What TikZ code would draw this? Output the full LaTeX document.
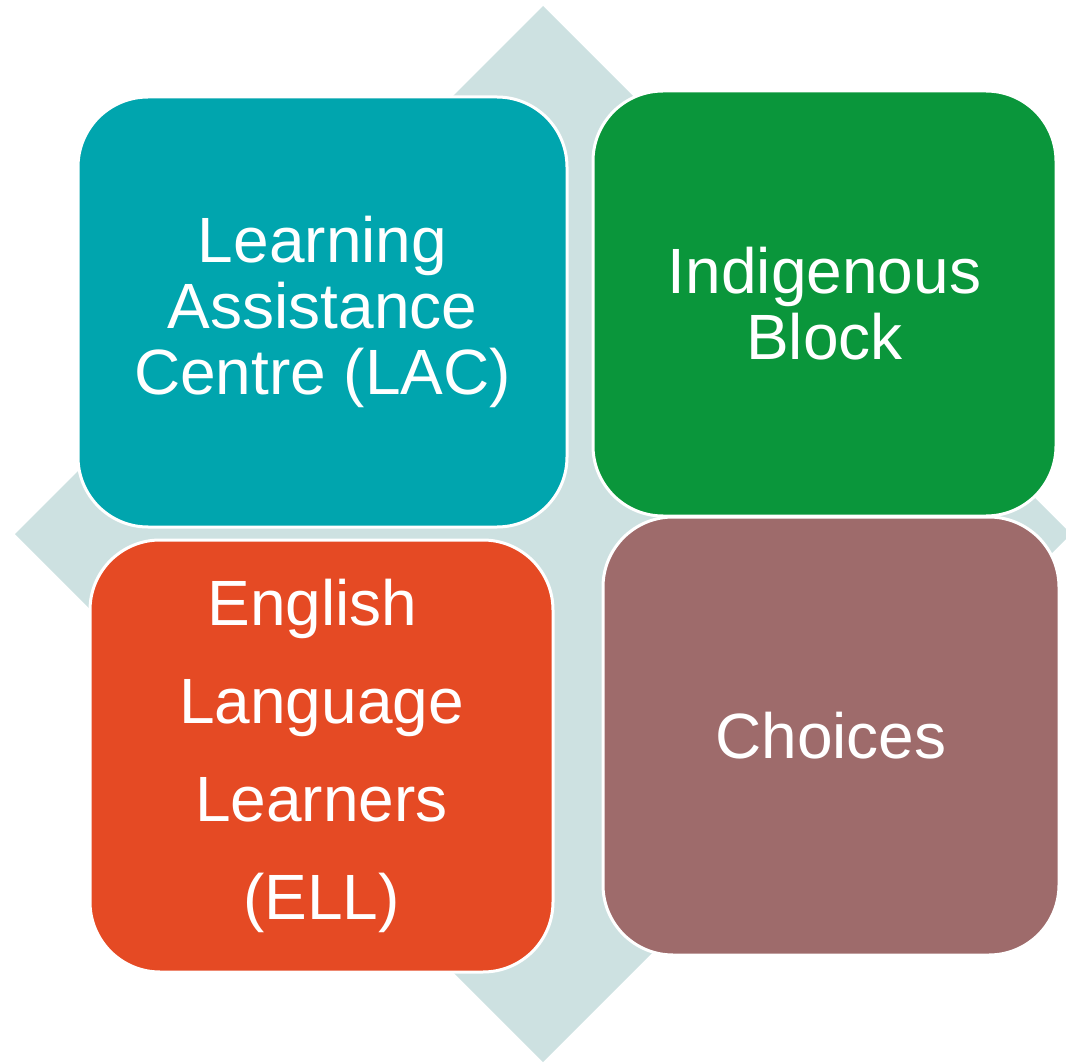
\documentclass[tikz,border=0pt]{standalone}
\usepackage{fontspec}
\setmainfont{Liberation Sans}
\definecolor{diam}{HTML}{CDE1E1}
\definecolor{teal1}{HTML}{00A5AE}
\definecolor{green1}{HTML}{0A963B}
\definecolor{orange1}{HTML}{E54A24}
\definecolor{mauve1}{HTML}{9E6B6B}
\begin{document}
\begin{tikzpicture}[x=1pt,y=-1pt,
  box/.style={draw=white, line width=3pt, rounded corners=70pt, inner sep=0pt,
    text=white, align=center, font=\fontsize{64}{66}\selectfont}]
\useasboundingbox (0,0) rectangle (1066,1064);
\begin{scope}
\clip (0,0) rectangle (1066,1064);
\fill[diam] (543,6) -- (1071,534) -- (543,1062) -- (15,534) -- cycle;
\end{scope}
\node[box, fill=teal1, minimum width=489pt, minimum height=430pt] (lac) at (322.5,312) {Learning\\Assistance\\Centre (LAC)};
\node[box, fill=green1, minimum width=463pt, minimum height=425pt] (ind) at (824.5,303.5) {Indigenous\\Block};
\node[box, fill=orange1, minimum width=463pt, minimum height=432pt, font=\fontsize{64}{98}\selectfont] (ell) at (321.5,756) {English~~\\Language~\\Learners\\(ELL)};
\node[box, fill=mauve1, minimum width=456pt, minimum height=438pt] (cho) at (831,736) {Choices};
\end{tikzpicture}
\end{document}
